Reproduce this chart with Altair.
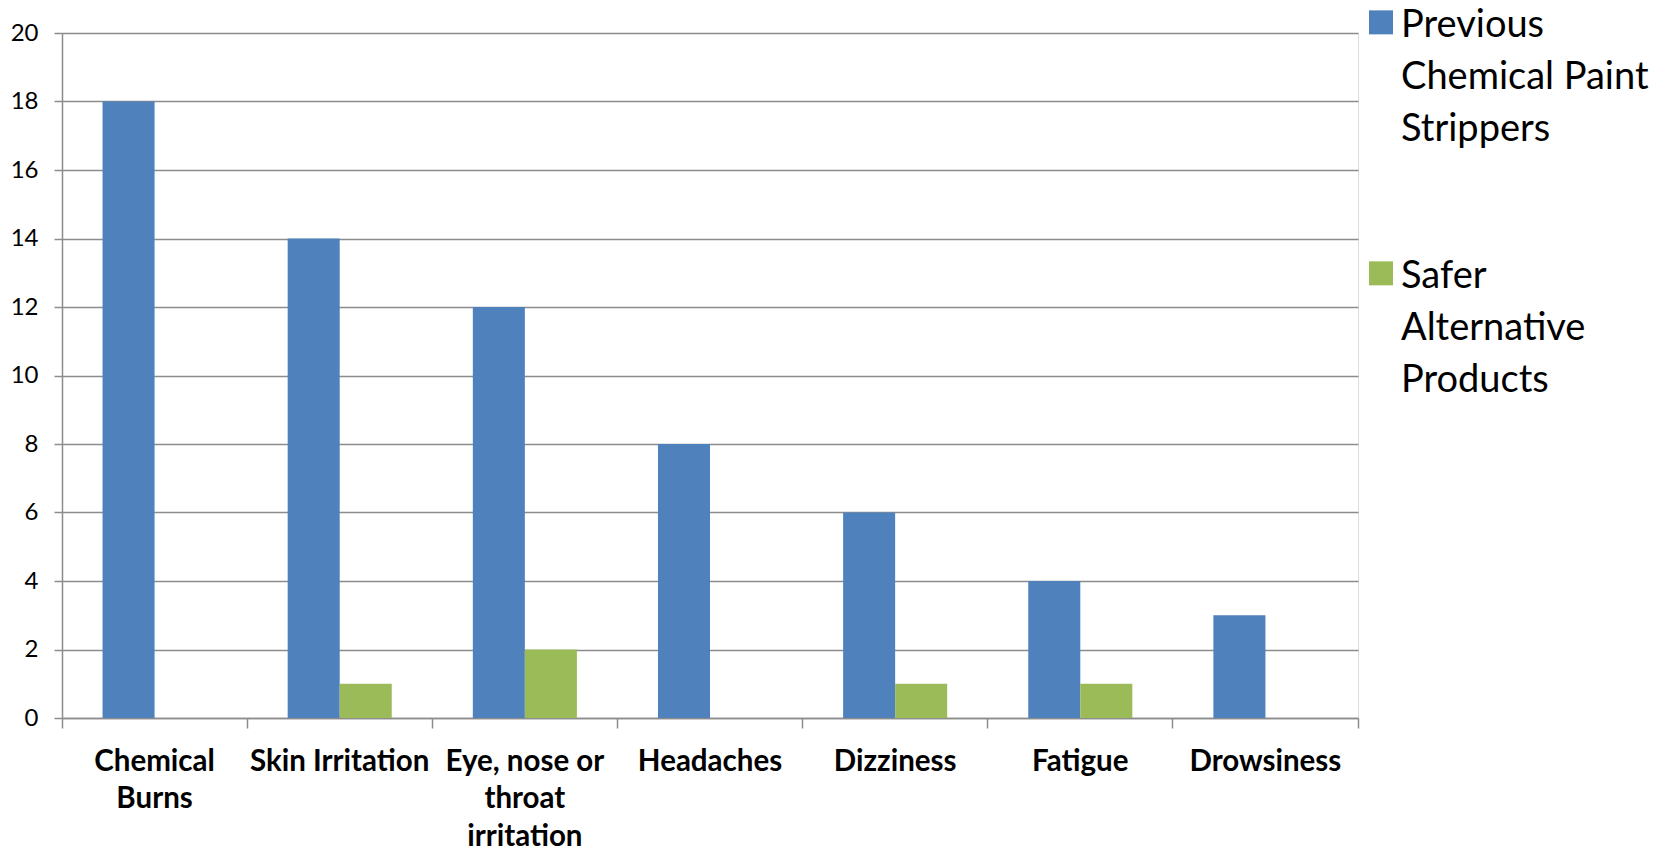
import altair as alt
import pandas as pd

# Reported symptoms per product type
symptoms = [
    "Chemical\nBurns",
    "Skin Irritation",
    "Eye, nose or\nthroat\nirritation",
    "Headaches",
    "Dizziness",
    "Fatigue",
    "Drowsiness",
]
series_names = [
    "Previous\nChemical Paint\nStrippers",
    "Safer\nAlternative\nProducts",
]
previous_counts = [18, 14, 12, 8, 6, 4, 3]
safer_counts = [0, 1, 2, 0, 1, 1, 0]
series_colors = ["#4F81BD", "#9BBB59"]
y_ticks = list(range(0, 21, 2))

rows = []
for name, counts in zip(series_names, [previous_counts, safer_counts]):
    for sym, v in zip(symptoms, counts):
        rows.append({"symptom": sym, "series": name, "count": v})
df = pd.DataFrame(rows)

FONT = "Lato"
GRID = "#8c8c8c"

bars = alt.Chart(df).mark_bar(strokeWidth=0).encode(
    x=alt.X(
        "symptom:N",
        sort=symptoms,
        scale=alt.Scale(paddingInner=0, paddingOuter=0),
        axis=alt.Axis(
            title=None,
            labelAngle=0,
            labelExpr="split(datum.label, '\\n')",
            labelFont=FONT,
            labelFontWeight="bold",
            labelFontSize=29.5,
            labelLineHeight=37.5,
            labelColor="#000000",
            labelPadding=19,
            labelBaseline="top",
            labelLimit=0,
            bandPosition=1,
            tickExtra=True,
            tickSize=10,
            tickColor=GRID,
            tickWidth=1.5,
            domainColor=GRID,
            domainWidth=1.5,
            grid=False,
        ),
    ),
    xOffset=alt.XOffset(
        "series:N",
        sort=series_names,
        scale=alt.Scale(paddingInner=0, paddingOuter=0.779),
    ),
    y=alt.Y(
        "count:Q",
        scale=alt.Scale(domain=[0, 20], nice=False),
        axis=alt.Axis(
            title=None,
            values=y_ticks,
            labelFont=FONT,
            labelFontSize=24,
            labelColor="#000000",
            labelPadding=16,
            tickSize=8,
            tickColor=GRID,
            tickWidth=1.5,
            domainColor=GRID,
            domainWidth=1.5,
            grid=True,
            gridColor=GRID,
            gridWidth=1.5,
        ),
    ),
    color=alt.Color(
        "series:N",
        sort=series_names,
        scale=alt.Scale(domain=series_names, range=series_colors),
        legend=alt.Legend(
            title=None,
            orient="none",
            legendX=1300,
            legendY=-45,
            labelExpr="split(datum.label, '\\n')",
            labelFont=FONT,
            labelFontSize=38,
            labelBaseline="top",
            labelColor="#000000",
            labelLimit=0,
            labelOffset=1,
            symbolType="M-1,0.28H1V2.28H-1Z",
            symbolSize=576,
            symbolStrokeWidth=0,
            symbolOpacity=1,
            rowPadding=90,
            padding=0,
        ),
    ),
)

chart = bars.properties(
    width=1296,
    height=685,
    autosize=alt.AutoSizeParams(type="none"),
    padding={"left": 62, "top": 33, "right": 320, "bottom": 132},
).configure_view(stroke=None).configure(
    background="#ffffff",
    style={"guide-label": {"lineHeight": 52}},
)

chart.save("out.html", embed_options={"renderer": "svg", "actions": False})
